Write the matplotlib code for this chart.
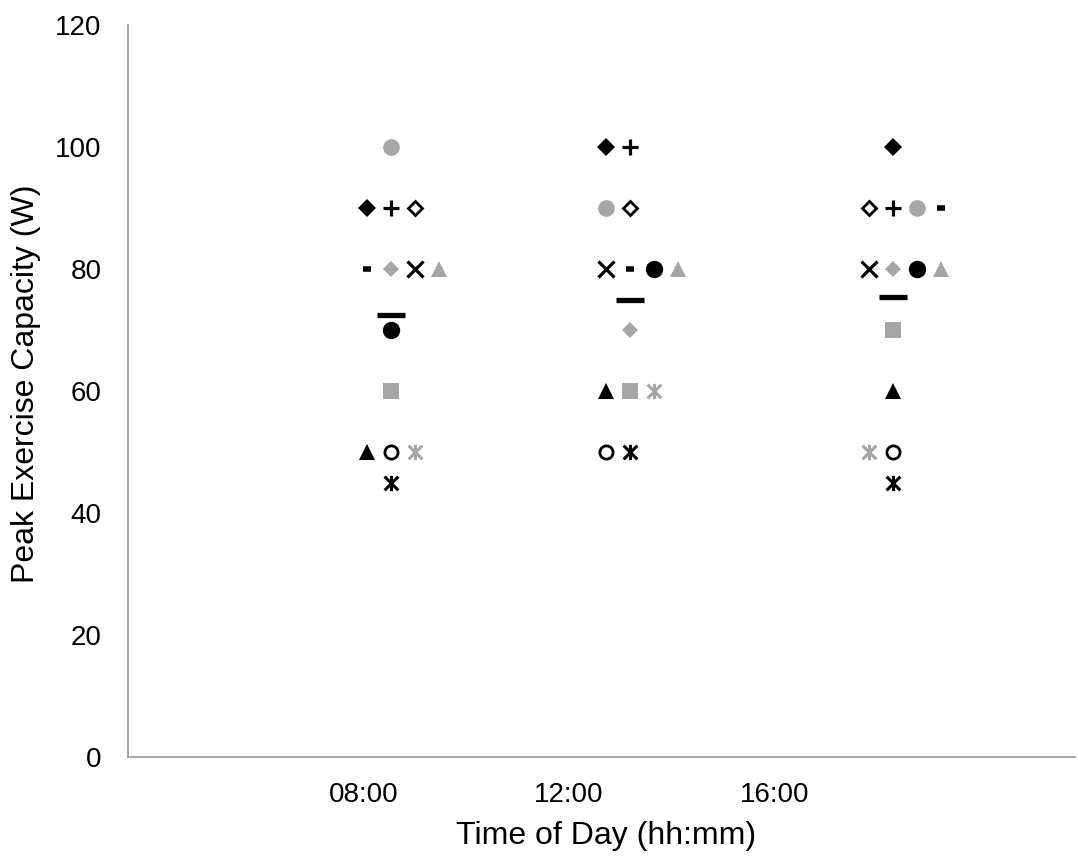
import numpy as np
import matplotlib
matplotlib.use("Agg")
import matplotlib.pyplot as plt
from matplotlib.path import Path

plt.rcParams['font.family'] = ['Liberation Sans', 'DejaVu Sans']

# time of day tick labels (hours)
tick_hours = [8, 12, 16]
tick_labels = ['08:00', '12:00', '16:00']
# x position of each testing session (hours)
session_x = [8.53, 13.18, 18.30]

# peak exercise capacity (W) per subject, same subject order in each session
peak_0800 = [100, 90, 90, 90, 80, 80, 80, 80, 70, 60, 50, 50, 50, 45]
peak_1200 = [90, 100, 100, 90, 80, 70, 80, 80, 80, 60, 60, 50, 60, 50]
peak_1600 = [90, 100, 90, 90, 90, 80, 80, 80, 80, 70, 60, 50, 50, 45]

# horizontal dodge of each marker so they don't overlap (in marker steps)
dodge_0800 = [0, -1, 0, 1, -1, 0, 1, 2, 0, 0, -1, 0, 1, 0]
dodge_1200 = [-1, -1, 0, 0, 0, 0, -1, 2, 1, 0, -1, -1, 1, 0]
dodge_1600 = [1, 0, 0, -1, 2, 0, -1, 2, 1, 0, 0, 0, -1, 0]
step = 0.47

gray = '#a6a6a6'
asterisk = Path([(0, -1), (0, 1), (-0.9, -0.9), (0.9, 0.9), (-0.9, 0.9), (0.9, -0.9)],
                [Path.MOVETO, Path.LINETO, Path.MOVETO, Path.LINETO, Path.MOVETO, Path.LINETO])

# marker, face, edge, size, edge width
styles = [
    ('o', gray, gray, 12, 0),
    ('D', 'black', 'black', 9, 0),
    ('+', 'black', 'black', 11, 2.3),
    ('D', 'white', 'black', 7.5, 2),
    ('_', 'black', 'black', 6, 4),
    ('D', gray, gray, 8.5, 0),
    ('x', 'black', 'black', 11, 2.3),
    ('^', gray, gray, 12, 0),
    ('o', 'black', 'black', 12.5, 0),
    ('s', gray, gray, 11.5, 0),
    ('^', 'black', 'black', 12, 0),
    ('o', 'white', 'black', 9.5, 2),
    (asterisk, gray, gray, 11, 2.2),
    (asterisk, 'black', 'black', 11, 2.2),
]

fig = plt.figure(figsize=(10.78, 8.63), dpi=100)
ax = fig.add_axes([0.1187, 0.1228, 0.8785, 0.8482])

sessions = [peak_0800, peak_1200, peak_1600]
dodges = [dodge_0800, dodge_1200, dodge_1600]

for sx, vals, dd in zip(session_x, sessions, dodges):
    for v, d, (m, fc, ec, ms, mew) in zip(vals, dd, styles):
        ax.plot(sx + d * step, v, linestyle='none', marker=m, markersize=ms,
                markerfacecolor=fc, markeredgecolor=ec, markeredgewidth=mew)
    # group mean
    ax.plot(sx, np.mean(vals), linestyle='none', marker='_', markersize=20,
            markeredgewidth=3.8, color='black')

ax.set_xlim(3.42, 21.84)
ax.set_ylim(0, 120)
ax.set_yticks(range(0, 121, 20))
ax.set_xticks(tick_hours)
ax.set_xticklabels(tick_labels)
ax.tick_params(length=0, labelsize=20, colors='black')
ax.tick_params(axis='y', pad=19)
ax.tick_params(axis='x', pad=18)

for s in ['top', 'right']:
    ax.spines[s].set_visible(False)
for s in ['left', 'bottom']:
    ax.spines[s].set_color('#a0a0a0')
    ax.spines[s].set_linewidth(1.3)

ax.set_xlabel('Time of Day (hh:mm)', fontsize=23)
ax.set_ylabel('Peak Exercise Capacity (W)', fontsize=23)
ax.xaxis.set_label_coords(0.505, -0.088)
ax.yaxis.set_label_coords(-0.092, 0.51)

fig.savefig('out.png', dpi=100)
